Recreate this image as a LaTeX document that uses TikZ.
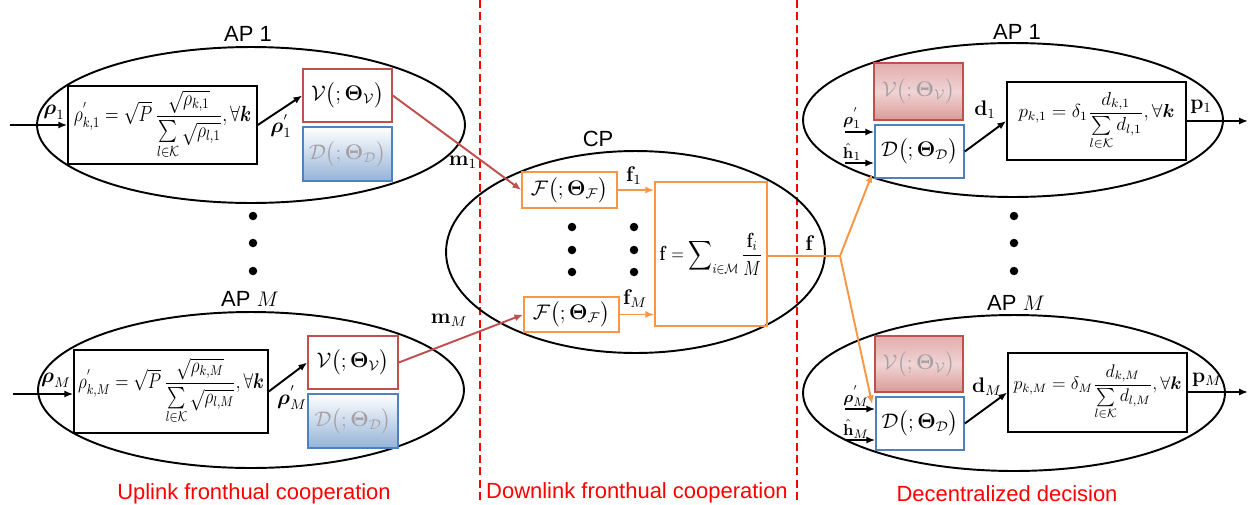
\documentclass[tikz,border=0pt]{standalone}
\usepackage{amsmath}
\usepackage{graphicx}
\usepackage[no-math]{fontspec}
\newfontfamily\arial{Liberation Sans}
\usetikzlibrary{shapes.geometric,arrows.meta,calc}
\definecolor{bred}{RGB}{192,80,77}
\definecolor{bblue}{RGB}{79,129,189}
\definecolor{borange}{RGB}{247,150,70}
\definecolor{lblue}{RGB}{149,179,215}
\definecolor{lpinkt}{RGB}{226,172,172}
\definecolor{lpinkm}{RGB}{240,212,212}
\definecolor{lpinkb}{RGB}{218,155,153}
\definecolor{fadetext}{RGB}{165,160,165}
\newcommand{\netV}{$\mathcal{V}\big(;\boldsymbol{\Theta}_{\mathcal{V}}\big)$}
\newcommand{\netD}{$\mathcal{D}\big(;\boldsymbol{\Theta}_{\mathcal{D}}\big)$}
\newcommand{\netF}{$\mathcal{F}\big(;\boldsymbol{\Theta}_{\mathcal{F}}\big)$}
\begin{document}
\begin{tikzpicture}[x=0.02cm,y=-0.02cm,
  every node/.style={font=\fontsize{12}{14}\selectfont},
  sz/.style 2 args={minimum width=#1cm, minimum height=#2cm},
  ell/.style={draw, ellipse, line width=1.1pt, inner sep=0pt},
  blk/.style={draw, line width=0.9pt, inner sep=0pt},
  vbox/.style={draw=bred, line width=0.9pt, inner sep=0pt},
  dbox/.style={draw=bblue, line width=0.9pt, inner sep=0pt},
  fbox/.style={draw=borange, line width=0.9pt, inner sep=0pt},
  fadeD/.style={dbox, top color=white, bottom color=lblue, text=fadetext},
  fadeV/.style={vbox, top color=lpinkt, bottom color=lpinkb, middle color=lpinkm, text=fadetext},
  arr/.style={-{Latex[length=5pt,width=4pt]}, line width=1.1pt},
  rarr/.style={-{Latex[length=5pt,width=4pt]}, line width=1.1pt, draw=bred},
  oarr/.style={-{Latex[length=5pt,width=4pt]}, line width=1.1pt, draw=borange},
  oline/.style={line width=1.1pt, draw=borange},
  dot/.style={circle, fill, inner sep=0pt, minimum size=0.17cm},
  aplab/.style={font=\arial\fontsize{12.5}{14}\selectfont},
  seclab/.style={font=\arial\fontsize{12.5}{14}\selectfont, text=red},
  sep/.style={draw=red, line width=1.6pt, dash pattern=on 4.5pt off 2.5pt},
  lab/.style={inner sep=0.5pt, font=\fontsize{11.5}{13}\selectfont},
  slab/.style={inner sep=0pt, font=\fontsize{9.5}{10}\selectfont},
  net/.style={font=\fontsize{11.5}{13}\selectfont}
]
\useasboundingbox (0,0) rectangle (1250,504);

% separators
\coordinate (s1t) at (480,0); \coordinate (s1b) at (480,504);
\coordinate (s2t) at (797,0); \coordinate (s2b) at (797,504);
\draw[sep] (s1t) -- (s1b);
\draw[sep] (s2t) -- (s2b);

% ===== left: uplink =====
\node[ell, sz={8.56}{3.12}] (eL1) at (251,125) {};
\node[ell, sz={8.52}{3.12}] (eLM) at (251,390) {};
\node[aplab] (apL1) at (248,34) {AP 1};
\node[aplab] (apLM) at (250,299) {AP $M$};

\node[blk, sz={3.78}{1.56}] (L1) at (162.5,125) {\resizebox*{3.55cm}{1.38cm}{$\rho^{'}_{k,1}=\sqrt{P}\,\dfrac{\sqrt{\rho_{k,1}}}{\sum\limits_{l\in\mathcal{K}}\sqrt{\rho_{l,1}}},\forall \boldsymbol{k}$}};
\node[blk, sz={3.88}{1.66}] (LM) at (171,391.5) {\resizebox*{3.72cm}{1.34cm}{$\rho^{'}_{k,M}=\sqrt{P}\,\dfrac{\sqrt{\rho_{k,M}}}{\sum\limits_{l\in\mathcal{K}}\sqrt{\rho_{l,M}}},\forall \boldsymbol{k}$}};

\node[vbox, net, sz={1.78}{1.06}] (V1) at (347.5,95.5) {\netV};
\node[fadeD, net, sz={1.78}{1.08}] (D1) at (347.5,154) {\netD};
\node[vbox, net, sz={1.8}{1.06}] (VM) at (353,362.5) {\netV};
\node[fadeD, net, sz={1.8}{1.08}] (DM) at (353,421) {\netD};

\coordinate (inL1) at (10,125);
\coordinate (inLM) at (13,394);
\draw[arr] (inL1) -- (L1.west);
\draw[arr] (inLM) -- (LM.west |- inLM);
\node[lab] (rho1) at (54,112) {$\boldsymbol{\rho}_1$};
\node[lab] (rhoM) at (56,380) {$\boldsymbol{\rho}_M$};
\draw[arr] (L1.east) -- (V1.west);
\draw[arr] (LM.east) -- (VM.west);
\node[lab] (rhop1) at (281,126) {$\boldsymbol{\rho}^{'}_1$};
\node[lab] (rhopM) at (292,398) {$\boldsymbol{\rho}^{'}_M$};

\node[dot] (dl1) at (253,216) {};
\node[dot] (dl2) at (253,243) {};
\node[dot] (dl3) at (253,271) {};

% ===== middle: CP =====
\node[ell, sz={7.58}{4.04}] (eCP) at (635.5,252) {};
\node[aplab] (cp) at (598,139) {CP};

\node[fbox, net, sz={1.9}{0.72}] (F1) at (569.5,190) {\netF};
\node[fbox, net, sz={1.9}{0.70}] (FM) at (571.5,314.5) {\netF};
\node[fbox, sz={2.24}{2.88}] (S) at (711,254) {\resizebox*{2.06cm}{0.84cm}{$\mathbf{f}=\displaystyle\sum\nolimits_{i\in\mathcal{M}}\dfrac{\mathbf{f}_i}{M}$}};

\draw[rarr] (V1.east) -- (F1.west);
\draw[rarr] (VM.east) -- (FM.west);
\node[lab] (m1) at (463,162) {$\mathbf{m}_1$};
\node[lab] (mM) at (449,320) {$\mathbf{m}_M$};

\draw[oarr] (F1.east) -- (F1.east -| S.west);
\draw[oarr] (FM.east) -- (FM.east -| S.west);
\node[lab] (f1) at (634,176) {$\mathbf{f}_1$};
\node[lab] (fM) at (635,299) {$\mathbf{f}_M$};

\node[dot] (dm1) at (572,227) {};
\node[dot] (dm2) at (572,250) {};
\node[dot] (dm3) at (572,272) {};
\node[dot] (dn1) at (634,227) {};
\node[dot] (dn2) at (634,250) {};
\node[dot] (dn3) at (634,272) {};

% ===== right: decentralized =====
\node[ell, sz={8.4}{3.08}] (eR1) at (1013,120) {};
\node[ell, sz={8.44}{3.12}] (eRM) at (1014,393) {};
\node[aplab] (apR1) at (1017,32) {AP 1};
\node[aplab] (apRM) at (1016,303) {AP $M$};

\node[fadeV, net, sz={1.78}{1.14}] (rV1) at (918.5,91.5) {\netV};
\node[dbox, net, fill=white, sz={1.78}{1.06}] (rD1) at (919.5,151.5) {\netD};
\node[fadeV, net, sz={1.76}{1.12}] (rVM) at (919,364) {\netV};
\node[dbox, net, fill=white, sz={1.76}{1.06}] (rDM) at (920,423.5) {\netD};

\node[blk, sz={3.58}{1.56}] (P1) at (1096.5,121) {\resizebox*{3.12cm}{1.16cm}{$p_{k,1}=\delta_1\dfrac{d_{k,1}}{\sum\limits_{l\in\mathcal{K}}d_{l,1}},\forall \boldsymbol{k}$}};
\node[blk, sz={3.58}{1.58}] (PM) at (1097.5,392.5) {\resizebox*{3.36cm}{1.12cm}{$p_{k,M}=\delta_M\dfrac{d_{k,M}}{\sum\limits_{l\in\mathcal{K}}d_{l,M}},\forall \boldsymbol{k}$}};

\coordinate (ir1) at (845,132);
\coordinate (ih1) at (845,163);
\coordinate (irM) at (845,409);
\coordinate (ihM) at (845,440);
\draw[arr] (ir1) -- (ir1 -| rD1.west);
\draw[arr] (ih1) -- (ih1 -| rD1.west);
\draw[arr] (irM) -- (irM -| rDM.west);
\draw[arr] (ihM) -- (ihM -| rDM.west);
\node[slab] (lr1) at (852,118) {$\boldsymbol{\rho}^{'}_1$};
\node[slab] (lh1) at (852,152) {$\hat{\mathbf{h}}_1$};
\node[slab] (lrM) at (856,396) {$\boldsymbol{\rho}^{'}_M$};
\node[slab] (lhM) at (856,429) {$\hat{\mathbf{h}}_M$};

\draw[arr] (rD1.east) -- (P1.west);
\draw[arr] (rDM.east) -- (PM.west);
\node[lab] (ld1) at (985,110) {$\mathbf{d}_1$};
\node[lab] (ldM) at (987,387) {$\mathbf{d}_M$};

\coordinate (o1) at (1248,121);
\coordinate (oM) at (1248,392);
\draw[arr] (P1.east) -- (o1);
\draw[arr] (PM.east |- oM) -- (oM);
\node[lab] (lp1) at (1201,107) {$\mathbf{p}_1$};
\node[lab] (lpM) at (1207,380) {$\mathbf{p}_M$};

\node[dot] (dr1) at (1014,216) {};
\node[dot] (dr2) at (1014,243) {};
\node[dot] (dr3) at (1014,271) {};

% f broadcast
\coordinate (br) at (840,256);
\draw[oline] (S.east |- br) -- (br);
\node[lab] (lf) at (810,243) {$\mathbf{f}$};
\draw[oarr] (br) -- ([shift={(-2,-5)}]rD1.south west);
\draw[oarr] (br) -- ([shift={(-3,8)}]rDM.north west);

% section labels
\node[seclab] (sec1) at (254,494) {Uplink fronthual cooperation};
\node[seclab] (sec2) at (637,493) {Downlink fronthual cooperation};
\node[seclab] (sec3) at (1007,494) {Decentralized decision};
\end{tikzpicture}
\end{document}
